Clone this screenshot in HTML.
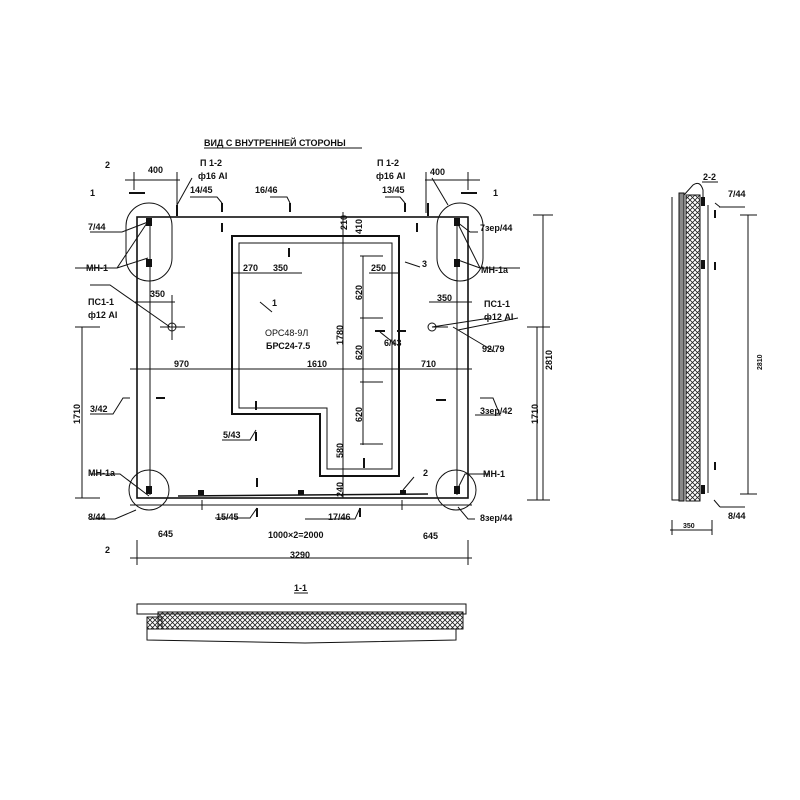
<!DOCTYPE html>
<html><head><meta charset="utf-8"><style>
body{margin:0;background:#fff}
svg{display:block}
text{font-family:"Liberation Sans","DejaVu Sans",sans-serif;font-size:9px;font-weight:bold;fill:#111}
</style></head><body>
<svg width="800" height="800" viewBox="0 0 800 800" xmlns="http://www.w3.org/2000/svg">
<defs>
<pattern id="x" width="5" height="5" patternUnits="userSpaceOnUse">
<path d="M0 0L5 5M5 0L0 5" stroke="#222" stroke-width="0.8"/>
</pattern>
</defs>
<g stroke="#111" fill="none" stroke-width="1">
<rect x="137" y="217" width="331" height="281" stroke-width="1.6"/>
<line x1="150" y1="220" x2="150" y2="495"/>
<line x1="457" y1="220" x2="457" y2="495"/>
<path d="M232 236H399V476H320V414H232Z" stroke-width="2"/>
<path d="M239 243H392V469H327V408H239Z"/>
<rect x="126" y="203" width="46" height="78" rx="23"/>
<rect x="437" y="203" width="46" height="78" rx="23"/>
<circle cx="149" cy="490" r="20"/>
<circle cx="456" cy="490" r="20"/>
<line x1="178" y1="496" x2="428" y2="494" stroke-width="1.5"/>
<line x1="130" y1="369" x2="472" y2="369"/>
<line x1="130" y1="505" x2="472" y2="505"/>
<line x1="130" y1="558" x2="472" y2="558"/>
<line x1="137" y1="540" x2="137" y2="565"/><line x1="468" y1="540" x2="468" y2="565"/>
<line x1="202" y1="500" x2="202" y2="510"/><line x1="402" y1="500" x2="402" y2="510"/>
<line x1="82" y1="327" x2="82" y2="498"/>
<line x1="75" y1="327" x2="100" y2="327"/><line x1="75" y1="498" x2="100" y2="498"/>
<line x1="537" y1="327" x2="537" y2="500"/>
<line x1="527" y1="327" x2="550" y2="327"/><line x1="527" y1="500" x2="550" y2="500"/>
<line x1="543" y1="215" x2="543" y2="500"/>
<line x1="533" y1="215" x2="553" y2="215"/>
<line x1="343" y1="212" x2="343" y2="498"/>
<line x1="363" y1="256" x2="363" y2="445"/>
<line x1="360" y1="256" x2="383" y2="256"/>
<line x1="360" y1="318" x2="383" y2="318"/>
<line x1="360" y1="382" x2="383" y2="382"/>
<line x1="360" y1="444" x2="383" y2="444"/>
<line x1="232" y1="273" x2="302" y2="273"/>
<line x1="369" y1="273" x2="399" y2="273"/>
<line x1="125" y1="180" x2="180" y2="180"/><line x1="425" y1="180" x2="480" y2="180"/>
<line x1="134" y1="172" x2="134" y2="190"/><line x1="177" y1="172" x2="177" y2="213"/>
<line x1="426" y1="172" x2="426" y2="213"/><line x1="468" y1="172" x2="468" y2="190"/>
<line x1="135" y1="302" x2="175" y2="302"/><line x1="429" y1="302" x2="472" y2="302"/>
<line x1="172" y1="295" x2="172" y2="340"/><line x1="160" y1="327" x2="185" y2="327"/>
<line x1="432" y1="327" x2="448" y2="327"/>
<circle cx="172" cy="327" r="4"/><circle cx="432" cy="327" r="4"/>
<path d="M90 232H122L148 222M75 268H117L149 220M117 268L148 258"/>
<path d="M478 232H470L457 222M520 268H480L457 222M480 268L458 260"/>
<path d="M90 285H110L170 327M490 318L432 327M518 318L458 330M453 327L495 352"/>
<path d="M192 178L177 205M432 178L448 205"/>
<path d="M190 197H217L222 203M270 197H287L290 203M385 197H400L405 203"/>
<path d="M90 414H113L123 398H130M475 415H500L493 398H480"/>
<path d="M90 474H120L149 496M490 474H465L456 492M90 519H115L136 510M475 519H468L458 507"/>
<path d="M222 440H250L256 430M215 518H250L257 508M305 519H355L360 508M414 477L403 490"/>
<path d="M260 302L272 312M405 262L420 267"/>
<path d="M380 332L395 344"/>
<g stroke-width="2">
<line x1="177" y1="205" x2="177" y2="216"/><line x1="222" y1="203" x2="222" y2="212"/>
<line x1="290" y1="203" x2="290" y2="212"/><line x1="405" y1="203" x2="405" y2="212"/>
<line x1="428" y1="203" x2="428" y2="216"/><line x1="222" y1="223" x2="222" y2="232"/>
<line x1="417" y1="223" x2="417" y2="232"/><line x1="289" y1="248" x2="289" y2="257"/>
<line x1="156" y1="398" x2="165" y2="398"/><line x1="436" y1="400" x2="446" y2="400"/>
<line x1="375" y1="331" x2="385" y2="331"/><line x1="397" y1="331" x2="406" y2="331"/>
<line x1="256" y1="401" x2="256" y2="410"/><line x1="256" y1="432" x2="256" y2="441"/>
<line x1="257" y1="478" x2="257" y2="487"/><line x1="257" y1="508" x2="257" y2="517"/>
<line x1="360" y1="508" x2="360" y2="517"/><line x1="364" y1="458" x2="364" y2="468"/>
<line x1="129" y1="193" x2="145" y2="193"/><line x1="461" y1="193" x2="477" y2="193"/>
</g>
<rect x="137" y="604" width="329" height="10"/>
<rect x="158" y="612" width="305" height="17" fill="url(#x)"/>
<rect x="147" y="617" width="15" height="12" fill="url(#x)"/>
<path d="M147 629V640L305 643L456 640V629"/>
<path d="M672 197V500H681"/>
<rect x="679" y="193" width="5" height="308" fill="#888"/>
<rect x="686" y="195" width="14" height="306" fill="url(#x)"/>
<line x1="700" y1="195" x2="700" y2="501"/>
<line x1="708" y1="205" x2="708" y2="493"/>
<path d="M684 195L693 185Q700 180 703 190V200"/>
<line x1="719" y1="207" x2="745" y2="207"/><line x1="720" y1="507" x2="745" y2="507"/>
<line x1="748" y1="215" x2="748" y2="494"/>
<line x1="740" y1="215" x2="757" y2="215"/><line x1="740" y1="494" x2="757" y2="494"/>
<line x1="670" y1="530" x2="712" y2="530"/>
<line x1="672" y1="520" x2="672" y2="535"/><line x1="712" y1="520" x2="712" y2="535"/>
<path d="M714 500L720 507M715 203L720 207"/>
<g stroke-width="2"><line x1="715" y1="210" x2="715" y2="218"/><line x1="715" y1="262" x2="715" y2="270"/><line x1="715" y1="462" x2="715" y2="470"/></g>
<line x1="702" y1="182" x2="718" y2="182"/><line x1="294" y1="593" x2="308" y2="593"/>
<line x1="204" y1="148" x2="362" y2="148"/>
</g>
<g fill="#111">
<rect x="146" y="218" width="6" height="8"/><rect x="146" y="259" width="6" height="8"/>
<rect x="454" y="218" width="6" height="8"/><rect x="454" y="259" width="6" height="8"/>
<rect x="146" y="486" width="6" height="8"/><rect x="454" y="486" width="6" height="8"/>
<rect x="198" y="490" width="6" height="5"/><rect x="298" y="490" width="6" height="5"/><rect x="400" y="490" width="6" height="5"/>
<rect x="701" y="197" width="4" height="9"/><rect x="701" y="260" width="4" height="9"/><rect x="701" y="485" width="4" height="9"/>
</g>
<text x="204" y="146">ВИД С ВНУТРЕННЕЙ СТОРОНЫ</text>
<text x="105" y="168">2</text><text x="90" y="196">1</text>
<text x="148" y="173">400</text><text x="430" y="175">400</text>
<text x="200" y="166">П 1-2</text><text x="198" y="179">ф16 AI</text>
<text x="377" y="166">П 1-2</text><text x="376" y="179">ф16 AI</text>
<text x="190" y="193">14/45</text><text x="255" y="193">16/46</text><text x="382" y="193">13/45</text>
<text x="493" y="196">1</text>
<text x="88" y="230">7/44</text><text x="480" y="231">7зер/44</text>
<text x="86" y="271">МН-1</text><text x="481" y="273">МН-1а</text>
<text x="243" y="271">270</text><text x="273" y="271">350</text><text x="371" y="271">250</text><text x="422" y="267">3</text>
<text x="347" y="230" transform="rotate(-90 347 230)">210</text>
<text x="362" y="234" transform="rotate(-90 362 234)">410</text>
<text x="150" y="297">350</text><text x="437" y="301">350</text>
<text x="88" y="305">ПС1-1</text><text x="88" y="318">ф12 AI</text>
<text x="484" y="307">ПС1-1</text><text x="484" y="320">ф12 AI</text>
<text x="272" y="306">1</text>
<text x="265" y="336" style="font-weight:normal">ОРС48-9Л</text>
<text x="266" y="349">БРС24-7.5</text>
<text x="362" y="300" transform="rotate(-90 362 300)">620</text>
<text x="362" y="360" transform="rotate(-90 362 360)">620</text>
<text x="362" y="422" transform="rotate(-90 362 422)">620</text>
<text x="343" y="345" transform="rotate(-90 343 345)">1780</text>
<text x="343" y="458" transform="rotate(-90 343 458)">580</text>
<text x="343" y="497" transform="rotate(-90 343 497)">240</text>
<text x="384" y="346">6/43</text><text x="482" y="352">92/79</text>
<text x="174" y="367">970</text><text x="307" y="367">1610</text><text x="421" y="367">710</text>
<text x="90" y="412">3/42</text><text x="480" y="414">3зер/42</text>
<text x="80" y="424" transform="rotate(-90 80 424)">1710</text>
<text x="538" y="424" transform="rotate(-90 538 424)">1710</text>
<text x="552" y="370" transform="rotate(-90 552 370)">2810</text>
<text x="223" y="438">5/43</text>
<text x="88" y="476">МН-1а</text><text x="483" y="477">МН-1</text>
<text x="423" y="476">2</text>
<text x="88" y="520">8/44</text><text x="480" y="521">8зер/44</text>
<text x="216" y="520">15/45</text><text x="328" y="520">17/46</text>
<text x="158" y="537">645</text><text x="268" y="538">1000×2=2000</text><text x="423" y="539">645</text>
<text x="105" y="553">2</text>
<text x="290" y="558">3290</text>
<text x="294" y="591">1-1</text>
<text x="703" y="180">2-2</text>
<text x="728" y="197">7/44</text>
<text x="728" y="519">8/44</text>
<text x="683" y="528" style="font-size:7px">350</text>
<text x="762" y="370" transform="rotate(-90 762 370)" style="font-size:7px">2810</text>
</svg>
</body></html>
